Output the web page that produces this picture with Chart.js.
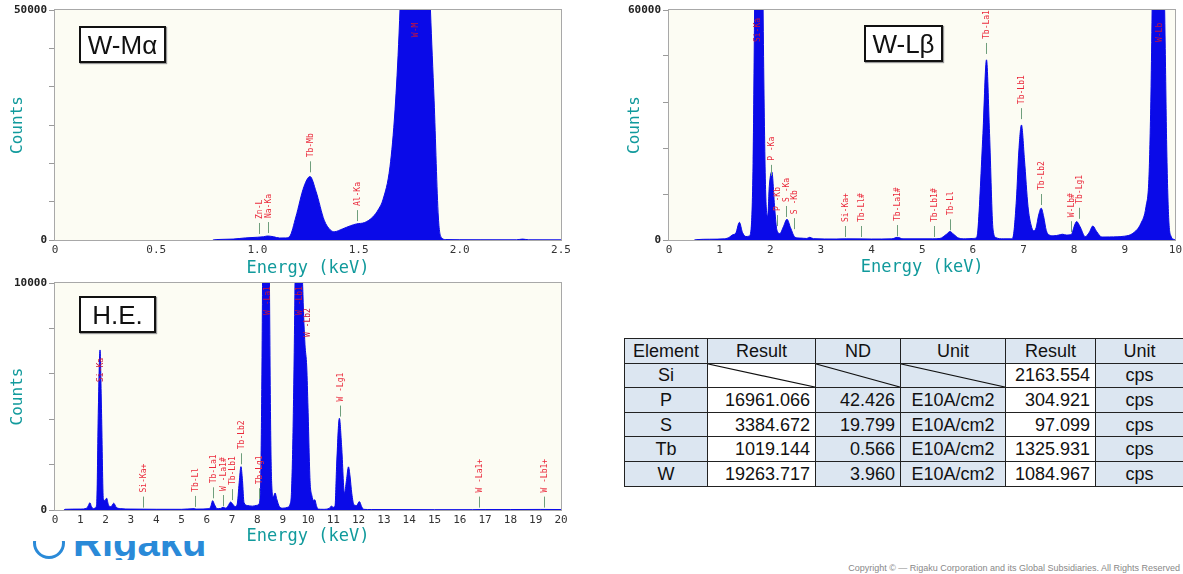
<!DOCTYPE html>
<html>
<head>
<meta charset="utf-8">
<script src="https://cdn.jsdelivr.net/npm/chart.js@4.4.1/dist/chart.umd.min.js"></script>
<style>
  body { margin:0; width:1183px; height:574px; background:#fff; position:relative; overflow:hidden;
         font-family:"Liberation Sans", Arial, sans-serif; }
  .panel { position:absolute; }
  .tag { position:absolute; border:2px solid #111; background:#fff; font-size:26px; text-align:center;
         line-height:34px; color:#111; box-shadow:1px 1px 1px #999; box-sizing:border-box; }
  #res { position:absolute; left:624px; top:338px; width:559px; border-collapse:collapse; table-layout:fixed;
         font-size:18px; color:#111; }
  #res td { border:1px solid #222; height:23.6px; padding:0 5px; background-color:#dce6f1; white-space:nowrap;
            line-height:20px; }
  #res td.w { background-color:#fff; }
  #res td.c { text-align:center; }
  #res td.r { text-align:right; }
  #res td.x { background-repeat:no-repeat; background-size:100% 100%;
              background-image:url("data:image/svg+xml,%3Csvg xmlns='http://www.w3.org/2000/svg' preserveAspectRatio='none' viewBox='0 0 100 100'%3E%3Cline x1='0' y1='0' x2='100' y2='100' stroke='%23111' stroke-width='1.2' vector-effect='non-scaling-stroke'/%3E%3C/svg%3E"); }
  #logo { position:absolute; left:33px; top:541px; width:190px; height:19px; overflow:hidden; }
  #logo .mark { position:absolute; left:0; top:-14px; width:26px; height:26px; border:3px solid #2a8ad8; border-radius:50%; }
  #logo .word { position:absolute; left:40px; top:-19px; font-weight:bold; font-size:40px; line-height:40px; color:#2a8ad8; }
  #copy { position:absolute; right:3px; top:563px; font-family:"Liberation Sans Narrow", "Liberation Sans", sans-serif;
          font-size:9px; color:#888; white-space:nowrap; }
</style>
</head>
<body>

<div id="logo"><span class="mark"></span><span class="word">Rigaku</span></div>

<div class="panel" style="left:0;top:0;width:580px;height:280px"><canvas id="wma"></canvas></div>
<div class="panel" style="left:610px;top:0;width:573px;height:280px"><canvas id="wlb"></canvas></div>
<div class="panel" style="left:0;top:273px;width:580px;height:280px"><canvas id="he"></canvas></div>

<div class="tag" style="left:79px;top:26px;width:87px;height:37px">W-Mα</div>
<div class="tag" style="left:864px;top:25px;width:79px;height:37px">W-Lβ</div>
<div class="tag" style="left:79px;top:296px;width:77px;height:37px">H.E.</div>

<table id="res"></table>

<div id="copy">Copyright © — Rigaku Corporation and its Global Subsidiaries. All Rights Reserved</div>

<script>
// ---- spectra: [energy keV, counts] ----
const wmaSpectrum = [
  [0.78,0],[0.80,100],[0.88,200],[0.94,450],[1.00,600],[1.03,700],[1.05,870],[1.08,700],[1.11,430],
  [1.14,450],[1.16,800],[1.19,5000],[1.23,11600],[1.26,13800],[1.29,10500],[1.33,4300],[1.36,2200],
  [1.38,1800],[1.42,2400],[1.46,3100],[1.49,3500],[1.53,3800],[1.57,5000],[1.60,6800],[1.62,8700],
  [1.655,15900],[1.68,28300],[1.70,45000],[1.72,70000],[1.78,150000],[1.84,70000],[1.855,50000],
  [1.873,30400],[1.894,5000],[1.91,500],[1.93,100],[2.00,60],[2.10,50],[2.28,40],[2.31,200],[2.34,40],[2.50,30]
];

const wlbSpectrum = [
  [0.50,0],[0.55,100],[0.80,200],[1.10,300],[1.20,800],[1.25,1300],[1.32,1800],[1.39,4600],[1.45,2000],
  [1.52,900],[1.58,1000],[1.62,2700],[1.66,20000],[1.69,60000],[1.75,150000],[1.83,100000],[1.87,45000],
  [1.91,12000],[1.95,6200],[1.98,13900],[2.03,17800],[2.09,7800],[2.13,2600],[2.19,1700],[2.26,3500],
  [2.33,5400],[2.40,3200],[2.49,700],[2.60,500],[2.72,400],[2.78,700],[2.85,350],[3.30,250],[3.50,300],
  [4.00,250],[4.40,300],[4.51,700],[4.62,300],[5.20,300],[5.35,400],[5.48,1500],[5.55,2200],[5.62,1500],
  [5.72,500],[5.85,300],[6.00,400],[6.07,600],[6.10,2600],[6.20,27800],[6.27,47000],[6.33,27800],
  [6.40,2600],[6.46,600],[6.60,300],[6.75,300],[6.79,600],[6.86,10400],[6.91,23500],[6.96,30000],
  [7.02,20900],[7.09,8700],[7.15,3900],[7.20,2400],[7.25,3200],[7.30,6500],[7.35,8300],[7.40,6000],
  [7.45,2500],[7.51,1300],[7.60,1100],[7.70,1300],[7.77,1500],[7.85,1300],[7.95,1500],[8.00,3500],
  [8.05,4800],[8.12,3400],[8.22,870],[8.30,2000],[8.37,3650],[8.44,2300],[8.55,770],[8.70,800],
  [9.00,1000],[9.16,1740],[9.32,4350],[9.42,8700],[9.48,17000],[9.52,40000],[9.56,80000],[9.65,150000],
  [9.74,100000],[9.80,50000],[9.83,23500],[9.87,5200],[9.92,800],[9.96,200],[10.0,100]
];

const heSpectrum = [
  [0.35,0],[0.40,30],[1.00,40],[1.25,80],[1.32,200],[1.38,320],[1.44,150],[1.52,60],[1.60,100],[1.65,300],
  [1.71,4260],[1.78,7050],[1.84,4260],[1.91,500],[1.97,420],[2.04,520],[2.12,200],[2.22,150],[2.32,300],
  [2.42,120],[2.60,60],[3.00,40],[5.00,30],[5.50,60],[5.60,40],[6.10,60],[6.17,200],[6.23,410],[6.30,250],
  [6.40,60],[6.55,70],[6.65,120],[6.75,80],[6.85,200],[6.94,350],[7.03,250],[7.12,150],[7.20,250],
  [7.28,1200],[7.35,1910],[7.41,1300],[7.47,330],[7.60,200],[7.80,170],[7.95,200],[8.05,250],[8.10,500],
  [8.13,1300],[8.17,5000],[8.21,11000],[8.34,30000],[8.47,11000],[8.52,4000],[8.56,1300],[8.63,580],
  [8.70,750],[8.76,500],[8.87,150],[9.00,80],[9.20,120],[9.29,250],[9.35,880],[9.42,4260],[9.49,10500],
  [9.62,30000],[9.75,12000],[9.80,9500],[9.88,7300],[9.95,6300],[10.00,4500],[10.08,1300],[10.15,650],
  [10.22,420],[10.27,450],[10.33,200],[10.40,40],[10.60,30],[10.85,80],[10.92,170],[11.00,120],[11.07,200],
  [11.13,1900],[11.24,4040],[11.33,2790],[11.44,735],[11.52,1300],[11.60,1900],[11.66,1500],[11.73,735],
  [11.82,220],[11.92,200],[12.03,370],[12.12,150],[12.20,30],[12.50,20],[15.00,15],[16.50,15],[17.00,20],
  [18.00,20],[19.20,25],[20.00,20]
];

// ---- peak markers: name, energy, level (counts at marker top), drawn on the peak itself ----
const wmaTagNames  = ['Zn-L', 'Na-Ka', 'Tb-Mb', 'Al-Ka', 'W-M'];
const wmaTagEnergy = [1.01, 1.05, 1.26, 1.49, 1.78];
const wmaTagLevel  = [3700, 3900, 17100, 6500, 44100];
const wmaTagOnPeak = [false, false, false, false, true];

const wlbTagNames  = ['Si-Ka', 'P -Ka', 'P -Kb', 'S -Ka', 'S -Kb', 'Si-Ka+', 'Tb-Ll#', 'Tb-La1#', 'Tb-Lb1#',
                      'Tb-Ll', 'Tb-La1', 'Tb-Lb1', 'Tb-Lb2', 'W-Lb#', 'Tb-Lg1', 'W-Lb'];
const wlbTagEnergy = [1.74, 2.02, 2.14, 2.31, 2.47, 3.47, 3.80, 4.51, 5.23, 5.54, 6.27, 6.96, 7.35, 7.93, 8.09, 9.68];
const wlbTagLevel  = [51650, 19600, 6500, 8870, 5700, 3650, 3650, 3900, 3650, 5400, 51400, 34400, 12000, 4900, 8400, 51650];
const wlbTagOnPeak = [true, false, false, false, false, false, false, false, false, false, false, false, false, false, false, true];

const heTagNames  = ['Si-Ka', 'Si-Ka+', 'Tb-Ll', 'Tb-La1', 'W -La1#', 'Tb-Lb1', 'Tb-Lb2', 'Tb-Lg1', 'W -La1',
                     'W -Lb1', 'W -Lb2', 'W -Lg1', 'W -La1+', 'W -Lb1+'];
const heTagEnergy = [1.76, 3.48, 5.55, 6.26, 6.64, 6.98, 7.37, 8.08, 8.37, 9.66, 9.95, 11.27, 16.77, 19.31];
const heTagLevel  = [5640, 590, 620, 1000, 660, 920, 2500, 960, 8590, 8590, 7620, 4600, 590, 590];
const heTagOnPeak = [true, false, false, false, false, false, false, false, true, true, true, false, false, false];

// ---- result table ----
const elements  = ['Si', 'P', 'S', 'Tb', 'W'];
const results   = [null, '16961.066', '3384.672', '1019.144', '19263.717'];
const ndValues  = [null, '42.426', '19.799', '0.566', '3.960'];
const units     = [null, 'E10A/cm2', 'E10A/cm2', 'E10A/cm2', 'E10A/cm2'];
const cpsValues = ['2163.554', '304.921', '97.099', '1325.931', '1084.967'];
const cpsUnits  = ['cps', 'cps', 'cps', 'cps', 'cps'];

// background + frame round the plot area
const plotFrame = {
  id: 'plotFrame',
  beforeDraw(chart) {
    const {ctx, chartArea: a} = chart;
    ctx.save();
    ctx.fillStyle = '#fcfcf3';
    ctx.fillRect(a.left, a.top, a.right - a.left, a.bottom - a.top);
    ctx.restore();
  },
  afterDraw(chart) {
    const {ctx, chartArea: a} = chart;
    ctx.save();
    ctx.strokeStyle = '#a8a8a8';
    ctx.lineWidth = 1;
    ctx.strokeRect(Math.round(a.left) - 0.5, Math.round(a.top) - 0.5, Math.round(a.right - a.left) + 1, Math.round(a.bottom - a.top) + 1);
    ctx.restore();
  }
};

// red peak names with green markers
const peakTags = {
  id: 'peakTags',
  afterDatasetsDraw(chart, args, o) {
    const {ctx, chartArea: a, scales: {x, y}} = chart;
    ctx.save();
    ctx.beginPath();
    ctx.rect(a.left, a.top, a.right - a.left, a.bottom - a.top);
    ctx.clip();
    ctx.font = '8px "DejaVu Sans Mono", monospace';
    ctx.textBaseline = 'middle';
    ctx.textAlign = 'left';
    o.names.forEach((name, i) => {
      const px = Math.round(x.getPixelForValue(o.energy[i])) + 0.5;
      let base = y.getPixelForValue(o.level[i]);
      if (!o.onPeak[i]) {
        ctx.strokeStyle = '#6f9f7c';
        ctx.lineWidth = 1;
        ctx.beginPath();
        ctx.moveTo(px, base);
        ctx.lineTo(px, base + 11);
        ctx.stroke();
        base -= 4;
      }
      ctx.save();
      ctx.translate(px, base);
      ctx.rotate(-Math.PI / 2);
      ctx.fillStyle = o.onPeak[i] ? '#c8143c' : '#ea2a3c';
      ctx.fillText(name, 0, 0);
      ctx.restore();
    });
    ctx.restore();
  }
};

function drawSpectrum(id, spectrum, xMax, xStep, yMax, ySteps, tags, lay) {
  return new Chart(document.getElementById(id), {
    type: 'line',
    data: {
      datasets: [{
        data: spectrum.map(p => ({x: p[0], y: p[1]})),
        borderColor: '#0a0ae8',
        backgroundColor: '#0a0ae8',
        borderWidth: 1,
        fill: 'origin',
        pointRadius: 0,
        cubicInterpolationMode: 'monotone',
        clip: 0
      }]
    },
    options: {
      responsive: true,
      maintainAspectRatio: false,
      animation: false,
      events: [],
      layout: { padding: { top: lay.top, right: lay.right, bottom: 0, left: 0 } },
      plugins: {
        legend: { display: false },
        tooltip: { enabled: false },
        peakTags: tags
      },
      scales: {
        x: {
          type: 'linear', min: 0, max: xMax,
          afterFit: s => { s.height = lay.xh; },
          border: { display: false },
          grid: { display: true, drawOnChartArea: false, drawTicks: true, tickLength: 3, tickColor: 'transparent' },
          ticks: { stepSize: xStep, maxRotation: 0, autoSkip: false, padding: 1, color: '#333',
                   font: { family: '"DejaVu Sans Mono", monospace', size: 11 } },
          title: { display: true, text: 'Energy (keV)', color: '#119a9c', padding: { top: 0, bottom: lay.tb },
                   font: { family: '"DejaVu Sans Mono", monospace', size: 17 } }
        },
        y: {
          min: 0, max: yMax,
          afterFit: s => { s.width = lay.yw; },
          border: { display: false },
          grid: { display: true, drawOnChartArea: false, drawTicks: true, tickLength: 6, tickColor: '#9a9a9a' },
          ticks: { stepSize: yMax / ySteps, padding: 2, color: '#222',
                   font: { family: '"DejaVu Sans Mono", monospace', size: 11, weight: 'bold' },
                   callback: v => (v === 0 || v === yMax) ? String(v) : '' },
          title: { display: true, text: 'Counts', color: '#119a9c', padding: { top: lay.tl, bottom: 0 },
                   font: { family: '"DejaVu Sans Mono", monospace', size: 16 } }
        }
      }
    },
    plugins: [plotFrame, peakTags]
  });
}

drawSpectrum('wma', wmaSpectrum, 2.5, 0.5, 50000, 6,
  { names: wmaTagNames, energy: wmaTagEnergy, level: wmaTagLevel, onPeak: wmaTagOnPeak },
  { top: 10, right: 19, xh: 40, yw: 55, tb: 1, tl: 8 });

drawSpectrum('wlb', wlbSpectrum, 10, 1, 60000, 5,
  { names: wlbTagNames, energy: wlbTagEnergy, level: wlbTagLevel, onPeak: wlbTagOnPeak },
  { top: 10, right: 7, xh: 40, yw: 59, tb: 2, tl: 15 });

drawSpectrum('he', heSpectrum, 20, 1, 10000, 5,
  { names: heTagNames, energy: heTagEnergy, level: heTagLevel, onPeak: heTagOnPeak },
  { top: 10, right: 19, xh: 43, yw: 55, tb: 6, tl: 8 });

// table
const tbl = document.getElementById('res');
let html = '<colgroup><col style="width:83px"><col style="width:108px"><col style="width:85px">' +
           '<col style="width:105px"><col style="width:90px"><col style="width:88px"></colgroup>';
html += '<tr><td class="c">Element</td><td class="c">Result</td><td class="c">ND</td>' +
        '<td class="c">Unit</td><td class="c">Result</td><td class="c">Unit</td></tr>';
elements.forEach((el, i) => {
  html += '<tr><td class="c">' + el + '</td>';
  html += results[i] === null ? '<td class="w x"></td>' : '<td class="w r">' + results[i] + '</td>';
  html += ndValues[i] === null ? '<td class="x"></td>' : '<td class="r">' + ndValues[i] + '</td>';
  html += units[i] === null ? '<td class="x"></td>' : '<td class="c" style="padding:0 2px">' + units[i] + '</td>';
  html += '<td class="w r">' + cpsValues[i] + '</td>';
  html += '<td class="c">' + cpsUnits[i] + '</td></tr>';
});
tbl.innerHTML = html;
</script>
</body>
</html>
